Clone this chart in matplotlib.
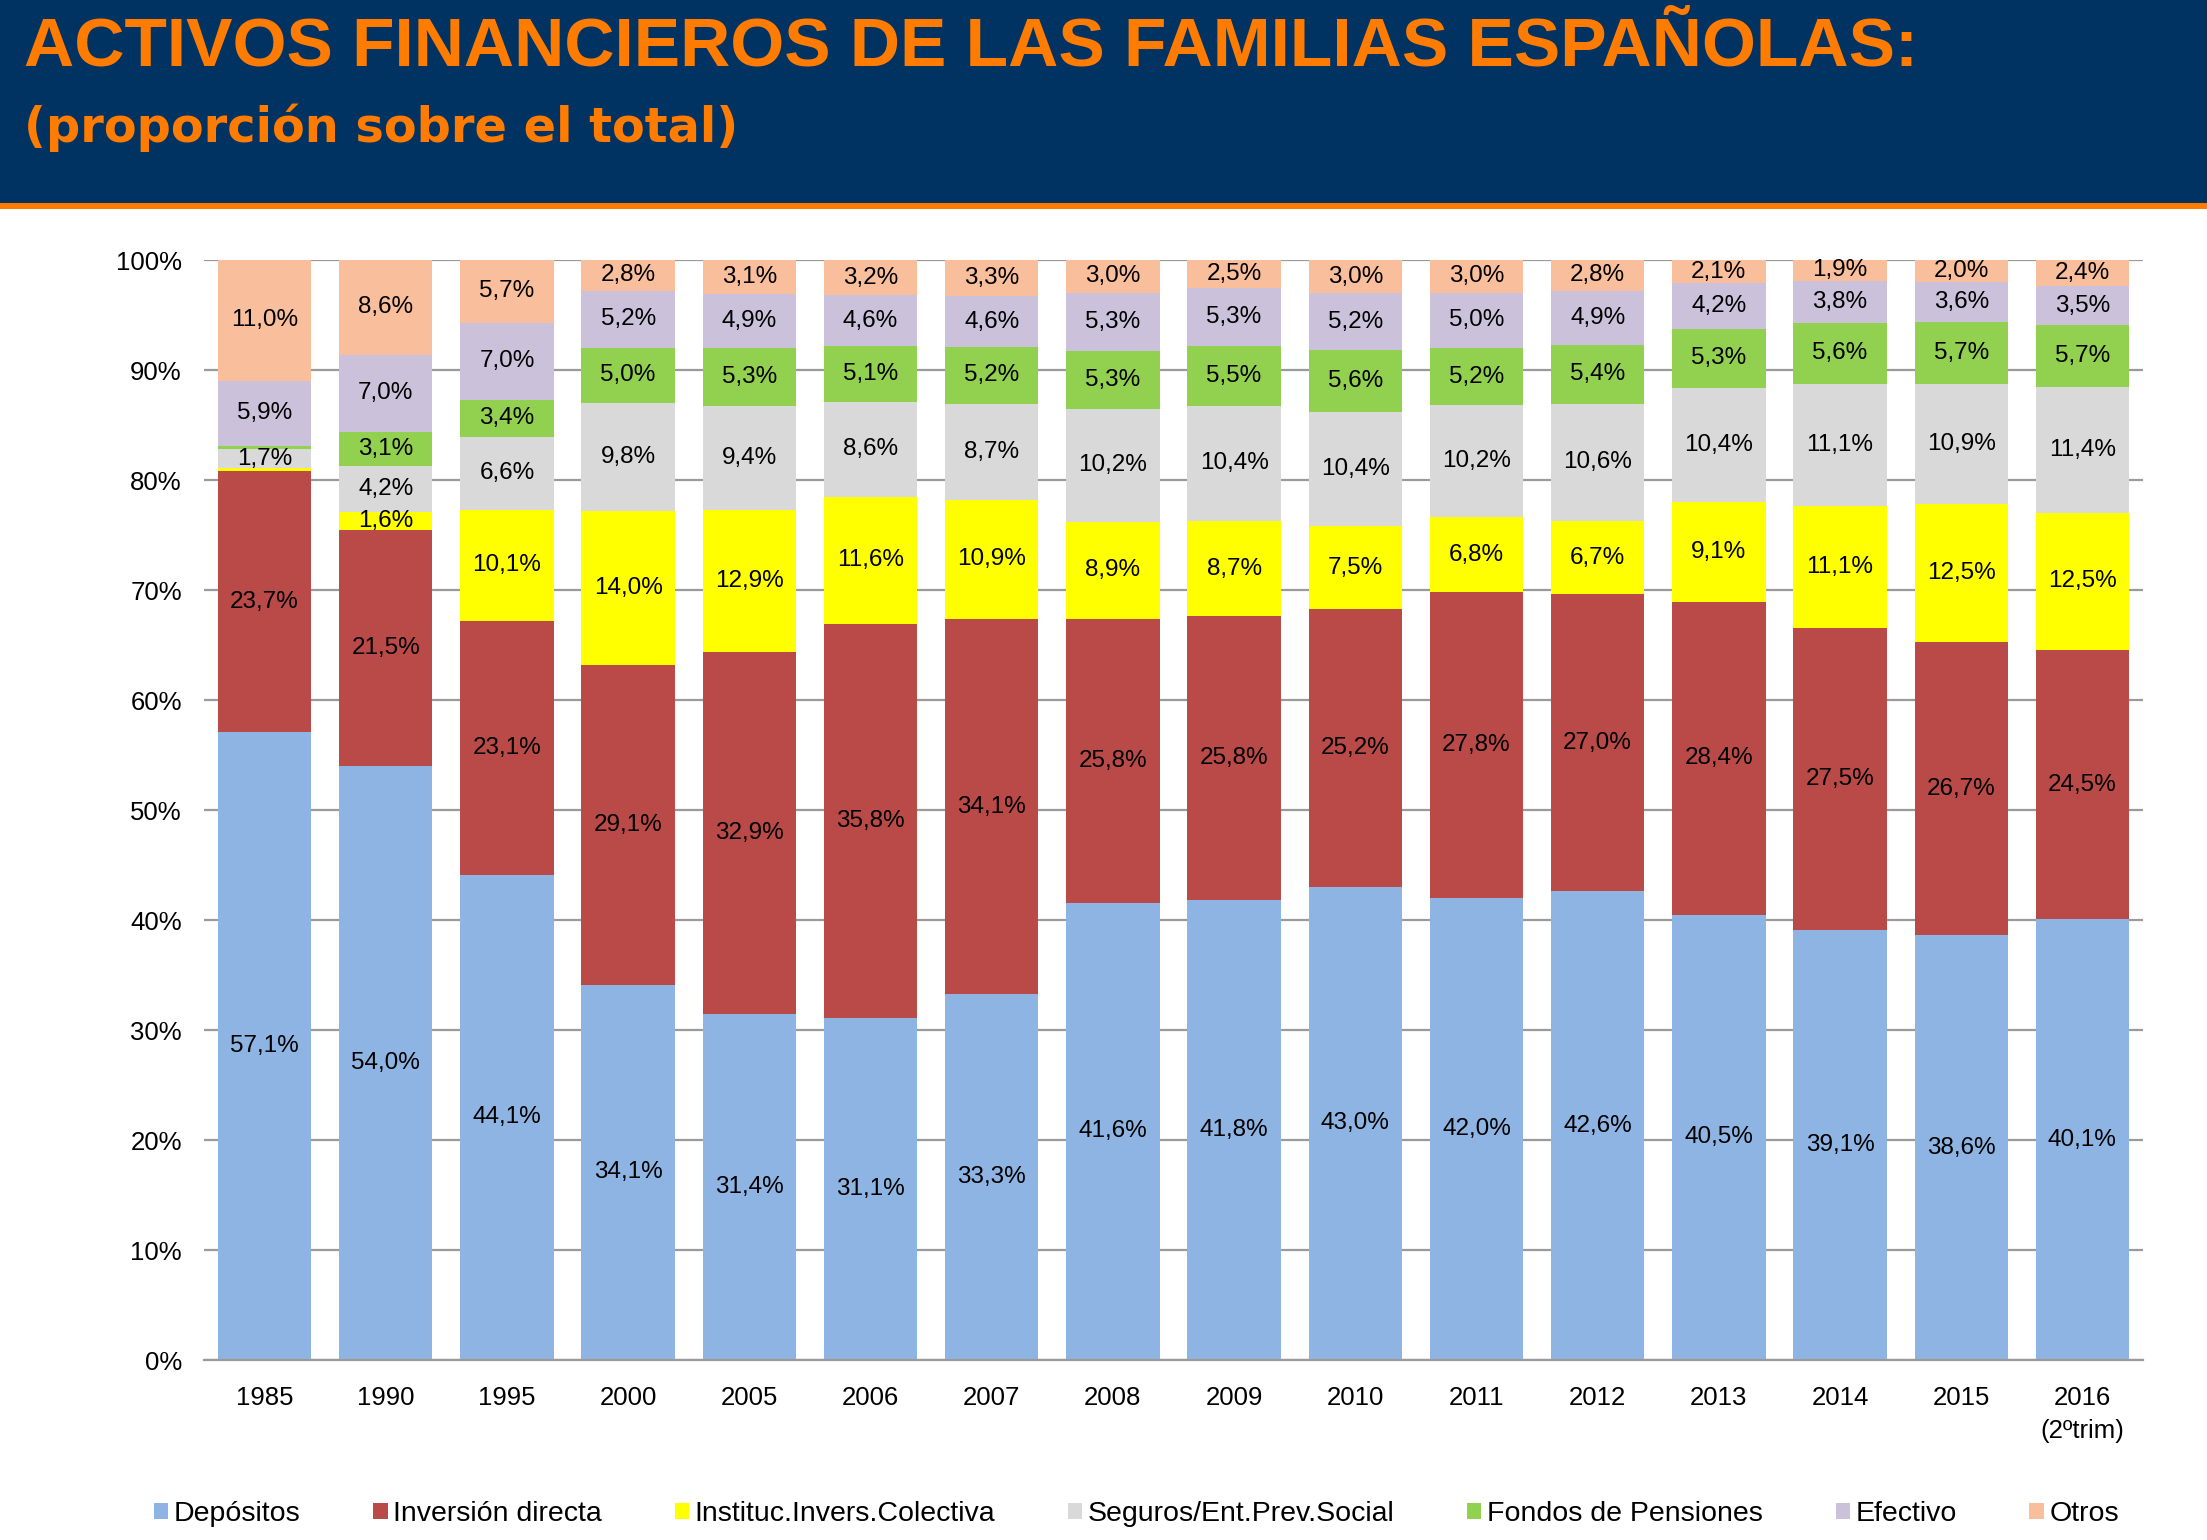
import numpy as np
import matplotlib
matplotlib.use('Agg')
import matplotlib.pyplot as plt
from matplotlib.patches import Rectangle

plt.rcParams['font.family'] = ['Liberation Sans', 'DejaVu Sans']

# datos (% sobre el total)
years = ['1985', '1990', '1995', '2000', '2005', '2006', '2007', '2008',
         '2009', '2010', '2011', '2012', '2013', '2014', '2015', '2016\n(2ºtrim)']
depositos = [57.1, 54.0, 44.1, 34.1, 31.4, 31.1, 33.3, 41.6, 41.8, 43.0, 42.0, 42.6, 40.5, 39.1, 38.6, 40.1]
inversion = [23.7, 21.5, 23.1, 29.1, 32.9, 35.8, 34.1, 25.8, 25.8, 25.2, 27.8, 27.0, 28.4, 27.5, 26.7, 24.5]
iic = [0.3, 1.6, 10.1, 14.0, 12.9, 11.6, 10.9, 8.9, 8.7, 7.5, 6.8, 6.7, 9.1, 11.1, 12.5, 12.5]
seguros = [1.7, 4.2, 6.6, 9.8, 9.4, 8.6, 8.7, 10.2, 10.4, 10.4, 10.2, 10.6, 10.4, 11.1, 10.9, 11.4]
pensiones = [0.3, 3.1, 3.4, 5.0, 5.3, 5.1, 5.2, 5.3, 5.5, 5.6, 5.2, 5.4, 5.3, 5.6, 5.7, 5.7]
efectivo = [5.9, 7.0, 7.0, 5.2, 4.9, 4.6, 4.6, 5.3, 5.3, 5.2, 5.0, 4.9, 4.2, 3.8, 3.6, 3.5]
otros = [11.0, 8.6, 5.7, 2.8, 3.1, 3.2, 3.3, 3.0, 2.5, 3.0, 3.0, 2.8, 2.1, 1.9, 2.0, 2.4]

series = [depositos, inversion, iic, seguros, pensiones, efectivo, otros]
names = ['Depósitos', 'Inversión directa', 'Instituc.Invers.Colectiva',
         'Seguros/Ent.Prev.Social', 'Fondos de Pensiones', 'Efectivo', 'Otros']
colors = ['#8EB4E3', '#B94A48', '#FFFF00', '#D9D9D9', '#92D050', '#CCC1DA', '#F9BE9C']
# las etiquetas muy pequeñas no se muestran (1985)
hide = {(2, 0), (4, 0)}

data = np.array(series)
total = data.sum(axis=0)
heights = data / total * 100  # 100% apilado

fig = plt.figure(figsize=(22.07, 15.40), dpi=100)

# cabecera
fig.patches.append(Rectangle((0, 1 - 203/1540), 1, 203/1540, transform=fig.transFigure,
                             facecolor='#003262', edgecolor='none', zorder=0))
fig.patches.append(Rectangle((0, 1 - 209/1540), 1, 6/1540, transform=fig.transFigure,
                             facecolor='#FF7C00', edgecolor='none', zorder=0))
fig.text(0.011, 1 - 65/1540, 'ACTIVOS FINANCIEROS DE LAS FAMILIAS ESPAÑOLAS:',
         fontweight='bold', fontsize=50, color='#FF7C00', va='baseline', ha='left')
fig.text(0.011, 1 - 142/1540, '(proporción sobre el total)', family='DejaVu Sans',
         fontweight='bold', fontsize=34.5, color='#FF7C00', va='baseline', ha='left')

ax = fig.add_axes([204/2207, 1 - 1360/1540, (2143 - 204)/2207, (1360 - 260)/1540])
x = np.arange(len(years))
bottom = np.zeros(len(years))
for i, (h, c, n) in enumerate(zip(heights, colors, names)):
    ax.bar(x, h, 0.77, bottom=bottom, color=c, label=n, zorder=2)
    for j in range(len(years)):
        if (i, j) in hide:
            continue
        lab = ('%.1f%%' % data[i, j]).replace('.', ',')
        ax.text(x[j], bottom[j] + h[j] / 2, lab, ha='center', va='center',
                fontsize=17.5, color='black', zorder=3)
    bottom += h

ax.set_xlim(-0.5, len(years) - 0.5)
ax.set_ylim(0, 100)
ax.set_yticks(np.arange(0, 101, 10))
ax.set_yticklabels(['%d%%' % v for v in range(0, 101, 10)])
ax.set_xticks(x)
ax.set_xticklabels(years, linespacing=1.45)
ax.tick_params(axis='both', length=0, labelsize=18.5)
ax.tick_params(axis='x', pad=19)
ax.tick_params(axis='y', pad=16)
ax.grid(axis='y', color='#9A9A9A', linewidth=1.6, zorder=0)
ax.set_axisbelow(True)
for s in ['top', 'right', 'left']:
    ax.spines[s].set_visible(False)
ax.spines['bottom'].set_color('#9A9A9A')
ax.spines['bottom'].set_linewidth(1.6)

handles, labels = ax.get_legend_handles_labels()
fig.legend(handles, labels, loc='center', bbox_to_anchor=(0.515, 1 - 1514/1540), ncol=7,
           frameon=False, fontsize=20.5, handlelength=0.5, handleheight=0.5,
           handletextpad=0.2, columnspacing=2.55)

fig.savefig('out.png', dpi=100)
